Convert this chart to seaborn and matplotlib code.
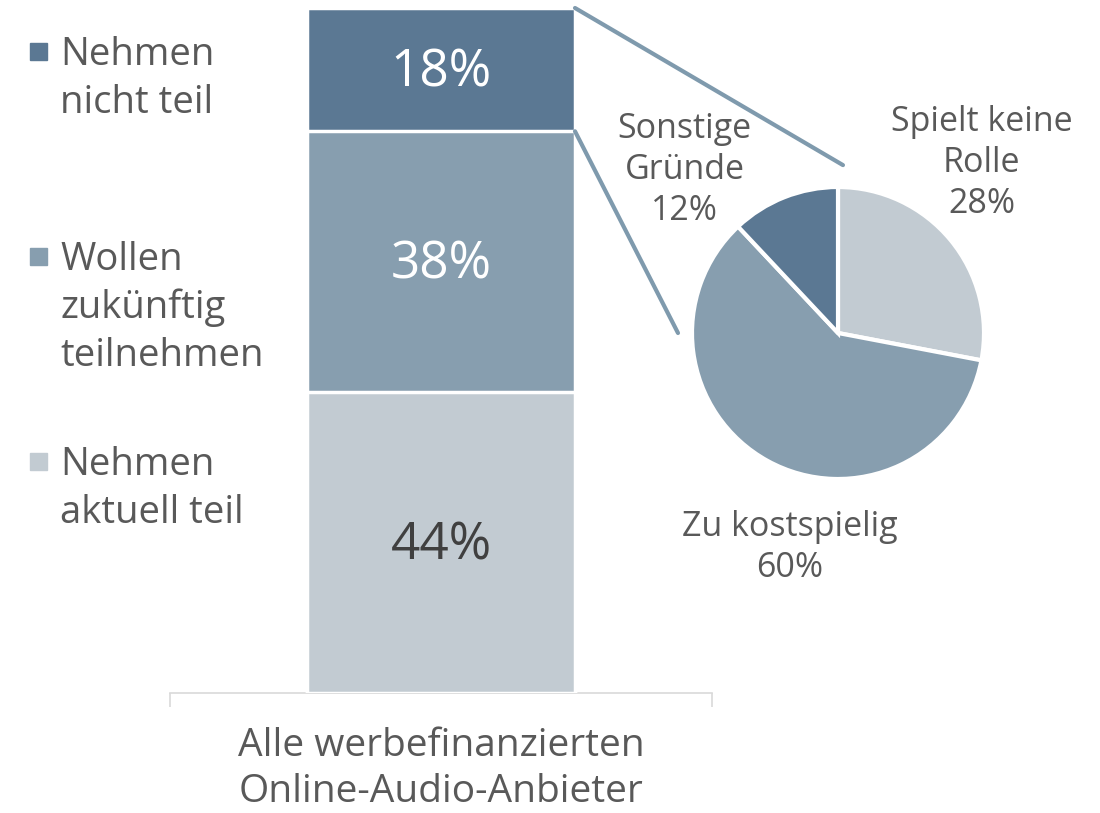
import matplotlib
matplotlib.use("Agg")
import matplotlib.pyplot as plt
from matplotlib.patches import ConnectionPatch, Rectangle
import numpy as np
import pandas as pd
import seaborn as sns

# Stacked bar: participation of ad-financed online audio providers
bar_category = "Alle werbefinanzierten\nOnline-Audio-Anbieter"
bar_labels = ["Nehmen\naktuell teil", "Wollen\nzukünftig\nteilnehmen", "Nehmen\nnicht teil"]
bar_values = [44, 38, 18]

# Pie: reasons for not participating
pie_labels = ["Spielt keine\nRolle", "Zu kostspielig", "Sonstige\nGründe"]
pie_values = [28, 60, 12]

light, mid, dark = "#c2cbd2", "#879eaf", "#5b7893"
bar_colors = [light, mid, dark]
pie_colors = [light, mid, dark]
text_color = "#595959"
line_color = "#7f9aad"

sns.set_theme(style="white")
plt.rcParams["font.family"] = ["Open Sans", "DejaVu Sans"]

W, H = 1100, 813
fig = plt.figure(figsize=(W / 100, H / 100), dpi=100)


def px_box(left, top, right, bottom):
    return [left / W, 1 - bottom / H, (right - left) / W, (bottom - top) / H]


# ---- stacked bar ----
ax = fig.add_axes(px_box(170, 8, 712, 693))
bar_width = 268 / 542
cum = np.cumsum(bar_values)
# draw cumulative totals from the top segment down so each layer shows its part
for i in reversed(range(len(bar_values))):
    df = pd.DataFrame({"cat": [bar_category], "val": [cum[i]]})
    sns.barplot(data=df, x="cat", y="val", color=bar_colors[i], width=bar_width,
                saturation=1, edgecolor="white", linewidth=2.5, ax=ax, zorder=2 + (2 - i))

ax.set_xlim(-0.5, 0.5)
ax.set_ylim(0, 100)
ax.set_ylabel("")
ax.set_xlabel("")
ax.set_yticks([])
ax.set_xticks([-0.5, 0.5])
ax.set_xticklabels([])
ax.tick_params(axis="x", length=10, width=1.2, color="#d9d9d9", direction="out", bottom=True)
for side in ["left", "right", "top"]:
    ax.spines[side].set_visible(False)
ax.spines["bottom"].set_color("#d9d9d9")
ax.spines["bottom"].set_linewidth(1.2)
ax.text(0, -5.0, bar_category, ha="center", va="top", fontsize=28,
        color=text_color, linespacing=1.27)

value_colors = ["#404040", "white", "white"]
starts = cum - np.array(bar_values)
for v, s, c in zip(bar_values, starts, value_colors):
    ax.text(0, s + v / 2 - 0.5, f"{v}%", ha="center", va="center", fontsize=37,
            color=c, zorder=10)

# ---- legend (top to bottom: dark, mid, light) ----
legend_tops = [34, 239, 444]
for lab, col, top in zip(reversed(bar_labels), reversed(bar_colors), legend_tops):
    fig.patches.append(Rectangle((30 / W, 1 - (top + 26) / H), 17 / W, 17 / H,
                                 transform=fig.transFigure, color=col, figure=fig))
    fig.text(60 / W, 1 - (top + 2) / H, lab, ha="left", va="top", fontsize=27.5,
             color=text_color, linespacing=1.33)

# ---- pie ----
cx, cy, r = 838, 333, 146
pax = fig.add_axes(px_box(cx - r, cy - r, cx + r, cy + r))
pax.pie(pie_values, colors=pie_colors, startangle=90, counterclock=False,
        wedgeprops=dict(edgecolor="white", linewidth=3))
pax.set_xlim(-1, 1)
pax.set_ylim(-1, 1)
pax.set_aspect("equal")
pax.axis("off")

label_pos = [(0.985, 1.165), (-0.33, -1.47), (-1.05, 1.115)]
for lab, v, (x, y) in zip(pie_labels, pie_values, label_pos):
    pax.text(x, y, f"{lab}\n{v}%", ha="center", va="center", fontsize=24.5,
             color=text_color, linespacing=1.27, clip_on=False)

# ---- connectors from the "nicht teil" segment to the pie ----
bar_right = bar_width / 2
for yA, xyB in [(cum[2], (0.034, 1.15)), (cum[1], (-1.096, 0.0))]:
    con = ConnectionPatch(xyA=(bar_right, yA), coordsA=ax.transData,
                          xyB=xyB, coordsB=pax.transData,
                          color=line_color, linewidth=3)
    fig.add_artist(con)

fig.savefig("out.png", dpi=100, facecolor="white")
